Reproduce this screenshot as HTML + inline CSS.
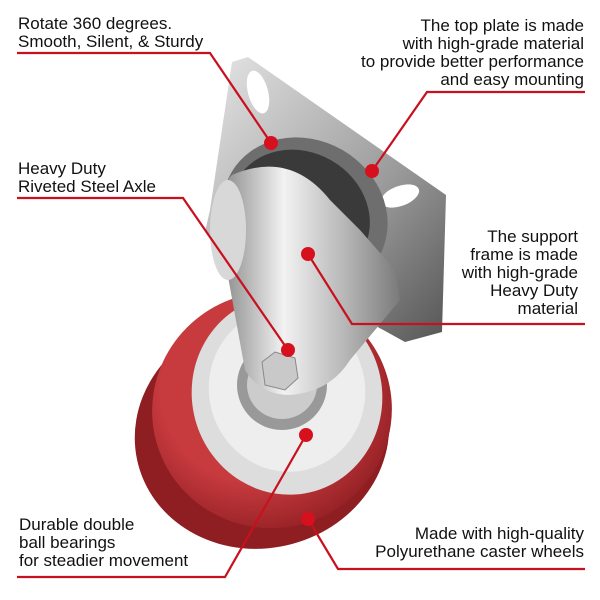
<!DOCTYPE html>
<html><head><style>
html,body{margin:0;padding:0;background:#fff;}
body{width:600px;height:600px;position:relative;overflow:hidden;font-family:"Liberation Sans",sans-serif;}
.t{position:absolute;font-size:17px;line-height:18px;color:#111;}
.r{text-align:right;}
</style></head><body>
<svg width="600" height="600" style="position:absolute;left:0;top:0">
<defs>
<linearGradient id="pl" x1="0" y1="0" x2="1" y2="1"><stop offset="0" stop-color="#e6e6e6"/><stop offset="0.6" stop-color="#9a9a9a"/><stop offset="1" stop-color="#555"/></linearGradient>
<linearGradient id="fr" x1="0" y1="0" x2="1" y2="0"><stop offset="0" stop-color="#8a8a8a"/><stop offset="0.35" stop-color="#f2f2f2"/><stop offset="0.7" stop-color="#b5b5b5"/><stop offset="1" stop-color="#7a7a7a"/></linearGradient>
<radialGradient id="wh" cx="0.45" cy="0.4" r="0.65"><stop offset="0.6" stop-color="#c73a3e"/><stop offset="1" stop-color="#8e1e22"/></radialGradient>
</defs>
<polygon points="232,62 248,57 446,195 442,332 405,342 205,232 210,210" fill="url(#pl)"/>
<ellipse cx="258" cy="92" rx="10" ry="22" fill="#fff" transform="rotate(-15 258 92)"/>
<ellipse cx="400" cy="196" rx="20" ry="10" fill="#fff" transform="rotate(-20 400 196)"/>
<ellipse cx="305" cy="215" rx="85" ry="75" fill="#6e6e6e" transform="rotate(30 305 215)"/>
<ellipse cx="300" cy="215" rx="72" ry="63" fill="#3a3a3a" transform="rotate(30 300 215)"/>
<ellipse cx="262" cy="432" rx="128" ry="116" fill="#8e1e22" transform="rotate(-15 262 432)"/>
<ellipse cx="272" cy="410" rx="120" ry="118" fill="url(#wh)" transform="rotate(-15 272 410)"/>
<ellipse cx="287" cy="395" rx="95" ry="100" fill="#ddd" transform="rotate(-15 287 395)"/>
<ellipse cx="287" cy="390" rx="78" ry="82" fill="#eee" transform="rotate(-15 287 390)"/>
<ellipse cx="282" cy="385" rx="45" ry="45" fill="#999"/>
<ellipse cx="282" cy="385" rx="35" ry="34" fill="#ccc"/>
<path d="M232,175 Q215,190 225,260 L245,370 Q260,395 290,395 Q330,392 350,360 L400,300 L395,270 L360,230 L330,200 Q290,150 232,175 Z" fill="url(#fr)"/>
<ellipse cx="228" cy="230" rx="18" ry="50" fill="#d8d8d8"/>
<polygon points="262,362 275,352 295,358 298,378 285,390 265,385" fill="#c9c9c9" stroke="#888"/>
<g stroke="#c8101e" stroke-width="2.2" fill="none">
<polyline points="17,53 210,53 271,143"/>
<polyline points="585,92 427,92 372,171"/>
<polyline points="17,198 183,198 288,350"/>
<polyline points="585,324 352,324 308,254"/>
<polyline points="17,577 225,577 306,435"/>
<polyline points="585,569 338,569 308,519"/>
</g>
<g fill="#d7101e">
<circle cx="271" cy="143" r="7"/><circle cx="372" cy="171" r="7"/><circle cx="288" cy="350" r="7"/>
<circle cx="308" cy="254" r="7"/><circle cx="306" cy="435" r="7"/><circle cx="308" cy="519" r="7"/>
</g>
</svg>
<div class="t" style="left:18px;top:15px">Rotate 360 degrees.<br>Smooth, Silent, &amp; Sturdy</div>
<div class="t r" style="right:16px;top:17px">The top plate is made<br>with high-grade material<br>to provide better performance<br>and easy mounting</div>
<div class="t" style="left:18px;top:160px">Heavy Duty<br>Riveted Steel Axle</div>
<div class="t r" style="right:22px;top:228px">The support<br>frame is made<br>with high-grade<br>Heavy Duty<br>material</div>
<div class="t" style="left:19px;top:516px">Durable double<br>ball bearings<br>for steadier movement</div>
<div class="t r" style="right:16px;top:525px">Made with high-quality<br>Polyurethane caster wheels</div>
</body></html>
